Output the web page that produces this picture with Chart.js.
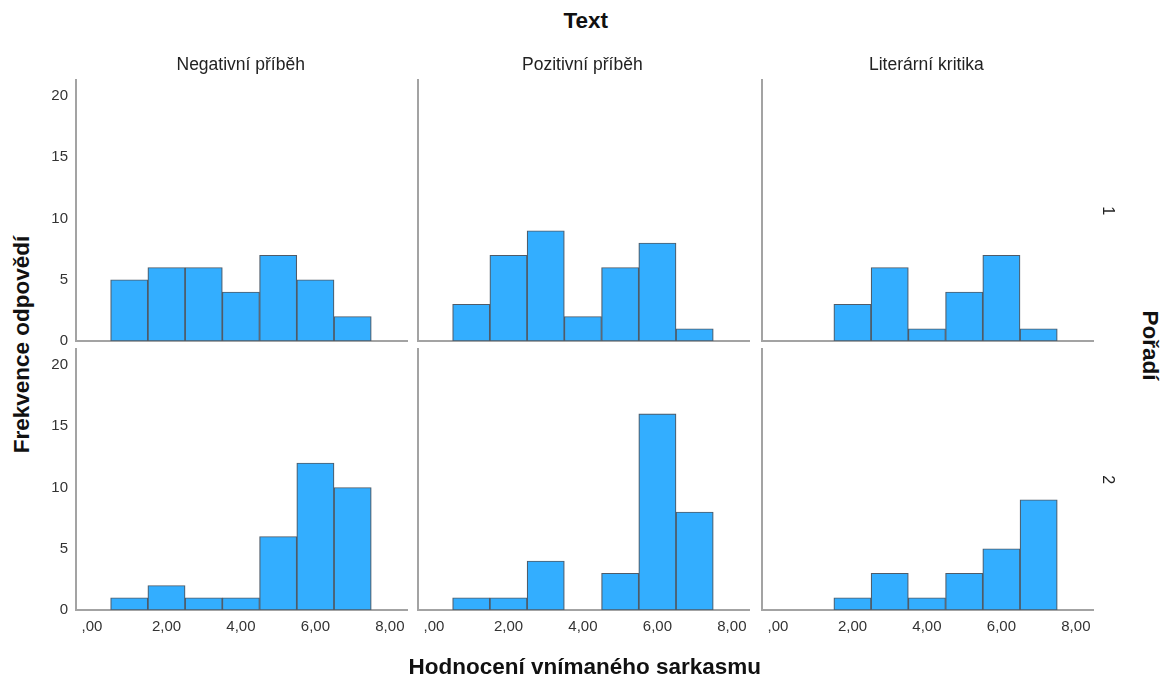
<!DOCTYPE html>
<html>
<head>
<meta charset="utf-8">
<script src="https://cdn.jsdelivr.net/npm/chart.js@4.4.1/dist/chart.umd.min.js"></script>
<style>
  html, body { margin:0; padding:0; background:#fff; }
  #wrap { position:relative; width:1168px; height:682px; overflow:hidden; font-family:"Liberation Sans", Arial, sans-serif; color:#111; }
  .cv { position:absolute; }
  .lbl { position:absolute; white-space:nowrap; transform-origin:center center; line-height:1.2; }
</style>
</head>
<body>
<div id="wrap"></div>
<script>
// ---- Data ----
const bins = [1, 2, 3, 4, 5, 6, 7];
const columnTitles = ["Negativní příběh", "Pozitivní příběh", "Literární kritika"];
const rowTitles = ["1", "2"];
const xTicks = [0, 2, 4, 6, 8];
const yTicks = [0, 5, 10, 15, 20];

const order1Negativni = [5, 6, 6, 4, 7, 5, 2];
const order1Pozitivni = [3, 7, 9, 2, 6, 8, 1];
const order1Literarni = [0, 3, 6, 1, 4, 7, 1];
const order2Negativni = [1, 2, 1, 1, 6, 12, 10];
const order2Pozitivni = [1, 1, 4, 0, 3, 16, 8];
const order2Literarni = [0, 1, 3, 1, 3, 5, 9];

const panelData = [
  [order1Negativni, order1Pozitivni, order1Literarni],
  [order2Negativni, order2Pozitivni, order2Literarni]
];

// ---- Layout ----
const colLeft = [76, 418, 762];
const rowTop = [80, 349];
const plotW = 331, plotH = 261;
const padL = 40, padT = 10, padR = 10, padB = 34;
const FONT = '"Liberation Sans", Arial, sans-serif';

const wrap = document.getElementById('wrap');

function addLabel(text, x, y, font, rot, color) {
  const d = document.createElement('div');
  d.className = 'lbl';
  d.textContent = text;
  d.style.font = font;
  d.style.lineHeight = '1.2';
  if (color) d.style.color = color;
  wrap.appendChild(d);
  const w = d.offsetWidth, h = d.offsetHeight;
  d.style.left = (x - w / 2) + 'px';
  d.style.top = (y - h / 2) + 'px';
  if (rot) d.style.transform = 'rotate(' + rot + 'deg)';
}

const fmtX = v => (v === 0 ? ',00' : v.toFixed(2).replace('.', ','));

for (let r = 0; r < 2; r++) {
  for (let c = 0; c < 3; c++) {
    const cv = document.createElement('canvas');
    cv.className = 'cv';
    const W = plotW + padL + padR, H = plotH + padT + padB;
    cv.width = W; cv.height = H;
    cv.style.width = W + 'px'; cv.style.height = H + 'px';
    cv.style.left = (colLeft[c] - padL) + 'px';
    cv.style.top = (rowTop[r] - padT) + 'px';
    wrap.appendChild(cv);

    const counts = panelData[r][c];
    const pts = bins.map((b, i) => ({ x: b, y: counts[i] })).filter(p => p.y > 0);

    new Chart(cv, {
      type: 'bar',
      data: {
        datasets: [{
          data: pts,
          backgroundColor: '#33aeff',
          borderColor: '#4f5b68',
          borderWidth: 1.2,
          borderSkipped: false,
          barPercentage: 1,
          categoryPercentage: 1
        }]
      },
      options: {
        responsive: false,
        animation: false,
        events: [],
        layout: { padding: { top: padT, right: padR, left: 0, bottom: 0 } },
        plugins: { legend: { display: false }, tooltip: { enabled: false } },
        scales: {
          x: {
            type: 'linear',
            offset: false,
            min: -0.43,
            max: 8.46,
            afterFit: s => { s.height = padB; s.paddingLeft = 0; s.paddingRight = 0; },
            afterBuildTicks: s => { s.ticks = xTicks.map(v => ({ value: v })); },
            grid: { display: false, drawTicks: false, offset: false },
            border: { display: true, color: '#a3a3a3', width: 2 },
            ticks: {
              display: r === 1,
              padding: 8,
              maxRotation: 0,
              autoSkip: false,
              color: '#333',
              font: { family: FONT, size: 15 },
              callback: v => fmtX(v)
            }
          },
          y: {
            min: 0,
            max: 21.3,
            afterFit: s => { s.width = padL; s.paddingTop = 0; s.paddingBottom = 0; },
            afterBuildTicks: s => { s.ticks = yTicks.map(v => ({ value: v })); },
            grid: { display: false, drawTicks: false },
            border: { display: true, color: '#a3a3a3', width: 2 },
            ticks: {
              display: c === 0,
              padding: 8,
              color: '#333',
              font: { family: FONT, size: 15 }
            }
          }
        }
      }
    });
  }
}

// ---- Titles ----
addLabel('Text', 586, 20, 'bold 22.5px ' + FONT);
columnTitles.forEach((t, i) => addLabel(t, colLeft[i] + plotW / 2 - 1, 64, '17.5px ' + FONT, 0, '#222'));
rowTitles.forEach((t, i) => addLabel(t, 1108, rowTop[i] + plotH / 2, '16px ' + FONT, 90, '#222'));
addLabel('Hodnocení vnímaného sarkasmu', 585, 666, 'bold 22.5px ' + FONT);
addLabel('Frekvence odpovědí', 22, 344, 'bold 22.5px ' + FONT, -90);
addLabel('Pořadí', 1150, 345, 'bold 22.5px ' + FONT, 90);
</script>
</body>
</html>
